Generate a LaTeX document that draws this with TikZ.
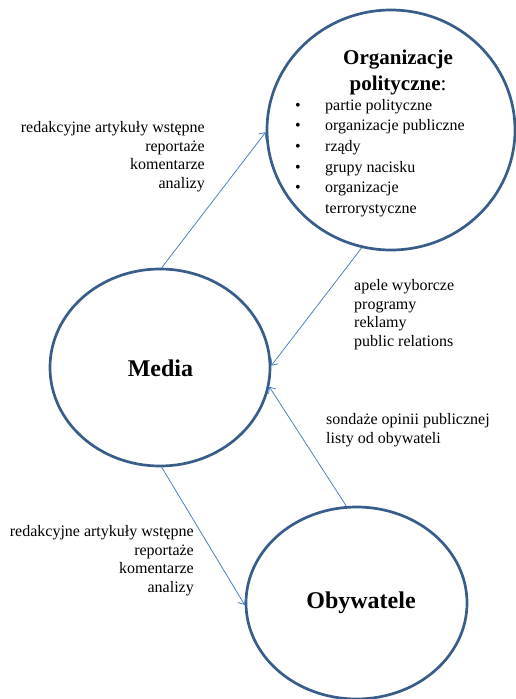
\documentclass[tikz,border=0pt]{standalone}
\usepackage{fontspec}
\setmainfont{Liberation Serif}
\usetikzlibrary{shapes.geometric, arrows.meta}

\definecolor{bubbleline}{RGB}{56,93,138}
\definecolor{flowline}{RGB}{79,129,189}

\begin{document}
\begin{tikzpicture}[x = 1pt, y = -1pt,
		bubble/.style = {ellipse, draw = bubbleline, line width = 2.7pt, inner sep = 0pt},
		txt/.style = {inner sep = 0pt, font = \fontsize{16}{18.7}\selectfont},
		bigtxt/.style = {inner sep = 0pt, font = \fontsize{24}{28}\selectfont\bfseries}]
			\def\bw{30pt};

			\useasboundingbox (0,0) rectangle (516,699);

			\node [bubble, minimum width = 248, minimum height = 240] (org) at (391,130) {};
			\node [bubble, minimum width = 220, minimum height = 197] (media) at (160,367.5) {};
			\node [bubble, minimum width = 221, minimum height = 192] (obyw) at (356.5,603) {};

			\node [bigtxt] (mediatxt) at (160.5,368) {Media};
			\node [bigtxt] (obywtxt) at (361,603) {Obywatele};

			\node [inner sep = 0pt, align = center, font = \fontsize{21}{26}\selectfont, anchor = north]
				(orgtitle) at (398,50) {\textbf{Organizacje}\\\textbf{polityczne}:};
			\node [txt, align = left, anchor = north west, font = \fontsize{16}{20.6}\selectfont]
				(orglist) at (295,99) {%
					\makebox[\bw][l]{\textbullet}partie polityczne\\
					\makebox[\bw][l]{\textbullet}organizacje publiczne\\
					\makebox[\bw][l]{\textbullet}rządy\\
					\makebox[\bw][l]{\textbullet}grupy nacisku\\
					\makebox[\bw][l]{\textbullet}organizacje\\
					\makebox[\bw][l]{}terrorystyczne};

			\node [txt, align = right, anchor = north east] (toptxt) at (205,121)
				{redakcyjne artykuły wstępne\\reportaże\\komentarze\\analizy};
			\node [txt, align = left, anchor = north west] (apele) at (354,279)
				{apele wyborcze\\programy\\reklamy\\public relations};
			\node [txt, align = left, anchor = north west] (sondaze) at (326,413)
				{sondaże opinii publicznej\\listy od obywateli};
			\node [txt, align = right, anchor = north east] (bottxt) at (194,525)
				{redakcyjne artykuły wstępne\\reportaże\\komentarze\\analizy};

			\begin{scope}[draw = flowline, line width = 0.8pt, -{Straight Barb[length = 5pt, width = 9pt]}]
				\draw (media.89) -- (org.181);
				\draw (org.256) -- (media.1);
				\draw (obyw.96) -- (media.350);
				\draw (media.271) -- (obyw.181);
			\end{scope}
		\end{tikzpicture}
\end{document}
